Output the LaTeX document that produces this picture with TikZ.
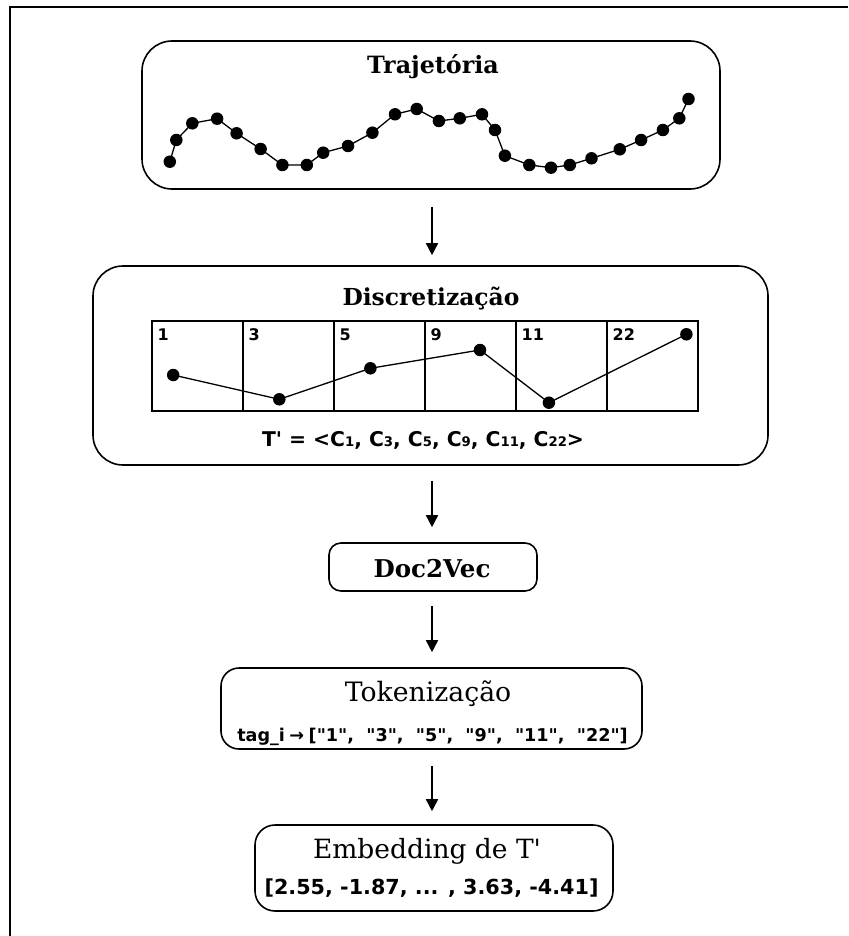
\documentclass[tikz,border=0pt]{standalone}
\usepackage{fontspec}
\setmainfont{DejaVu Serif}
\newfontfamily\dvsans{DejaVu Sans}
\usetikzlibrary{arrows.meta}
\begin{document}
\begin{tikzpicture}[x=1pt,y=-1pt,
  stage/.style={draw, line width=1.6pt, rounded corners=#1, inner sep=0pt},
  ttlb/.style={font=\bfseries\fontsize{#1}{#1}\selectfont, inner sep=0pt, anchor=base},
  ttlr/.style={font=\fontsize{#1}{#1}\selectfont, inner sep=0pt, anchor=base},
  sanslbl/.style={font=\dvsans\bfseries\fontsize{#1}{#1}\selectfont, inner sep=0pt},
  cell/.style={draw, line width=2.6pt, minimum width=91pt, minimum height=90pt, inner sep=0pt},
  dot/.style={circle, fill=black, inner sep=0pt, minimum size=12.5pt},
  trail/.style={line width=1.3pt},
  flow/.style={line width=1.6pt, -{Triangle[width=12pt,length=12pt]}}]
\useasboundingbox (0,0) rectangle (848,936);
% outer frame (partly cut by the page)
\draw[line width=1.6pt] (10,936) -- (10,7) -- (848,7);

% boxes
\node[stage=30pt, minimum width=578pt, minimum height=148pt] (b1) at (431,115) {};
\node[stage=30pt, minimum width=675pt, minimum height=199pt] (b2) at (430.5,365.5) {};
\node[stage=12pt, minimum width=208pt, minimum height=48pt] (b3) at (433,567) {};
\node[stage=18pt, minimum width=421pt, minimum height=81pt] (b4) at (431.5,708.5) {};
\node[stage=20pt, minimum width=358pt, minimum height=86pt] (b5) at (434,868) {};

% titles
\node[ttlb=23.8] (t1) at (433,74) {Trajetória};
\node[ttlb=23.4] (t2) at (431,305) {Discretização};
\node[ttlb=24.5] (t3) at (432,577) {Doc2Vec};
\node[ttlr=26.7] (t4) at (428,701) {Tokenização};
\node[ttlr=26.5] (t5) at (427,858) {Embedding de T\textquotesingle};

% trajectory
\foreach [count=\i] \x/\y in {169.8/161.7, 176.3/140, 192.3/123.3, 217.1/118.7, 236.6/133.3,
  260.6/149, 282.4/165, 306.8/165, 323.2/152.7, 348/146, 372.4/132.7, 395/114.3,
  416.7/109, 438.9/121, 459.8/118.3, 482/114.3, 495/130, 504.9/155.7, 529.3/165,
  551/167.7, 569.8/165, 591.5/158.3, 619.8/149.3, 641.1/140, 662.9/130, 679.3/118.3, 688.5/99}
  \node[dot] (p\i) at (\x,\y) {};
\draw[trail] (p1.center) \foreach \i in {2,...,27} { -- (p\i.center) };

% grid
\foreach [count=\i] \lab in {1,3,5,9,11,22} {
  \node[cell] (c\i) at ({152+91*(\i-1)+45.5},366) {};
  \node[sanslbl=16, anchor=base west] (l\i) at ({152+91*(\i-1)+5.5},340) {\lab};
}
\foreach [count=\i] \x/\y in {173.2/375, 279.3/399.3, 370.4/368.3, 480/350, 548.9/402.7, 686.4/334.3}
  \node[dot] (g\i) at (\x,\y) {};
\draw[trail] (g1.center) \foreach \i in {2,...,6} { -- (g\i.center) };

\node[sanslbl=20.3, anchor=base] (seq) at (423,446)
  {T\textquotesingle{} = <C{\fontsize{13.2}{13.2}\selectfont 1}, C{\fontsize{13.2}{13.2}\selectfont 3}, C{\fontsize{13.2}{13.2}\selectfont 5}, C{\fontsize{13.2}{13.2}\selectfont 9}, C{\fontsize{13.2}{13.2}\selectfont 11}, C{\fontsize{13.2}{13.2}\selectfont 22}>};

\node[sanslbl=17.6, anchor=base] (tok) at (432.5,741)
  {tag\_i\hspace{4.5pt}→\hspace{4.5pt}["1",\hspace{12.3pt}"3",\hspace{12.3pt}"5",\hspace{12.3pt}"9",\hspace{12.3pt}"11",\hspace{12.3pt}"22"]};

\node[sanslbl=20.7, anchor=base] (emb) at (431.5,894)
  {[2.55, -1.87, ... , 3.63, -4.41]};

% arrows
\coordinate (ax) at (432,0);
\draw[flow, shorten <=17pt, shorten >=10pt] (b1.south -| ax) -- (b2.north -| ax);
\draw[flow, shorten <=15pt, shorten >=15pt] (b2.south -| ax) -- (b3.north -| ax);
\draw[flow, shorten <=14pt, shorten >=15pt] (b3.south -| ax) -- (b4.north -| ax);
\draw[flow, shorten <=16pt, shorten >=13pt] (b4.south -| ax) -- (b5.north -| ax);
\end{tikzpicture}
\end{document}
